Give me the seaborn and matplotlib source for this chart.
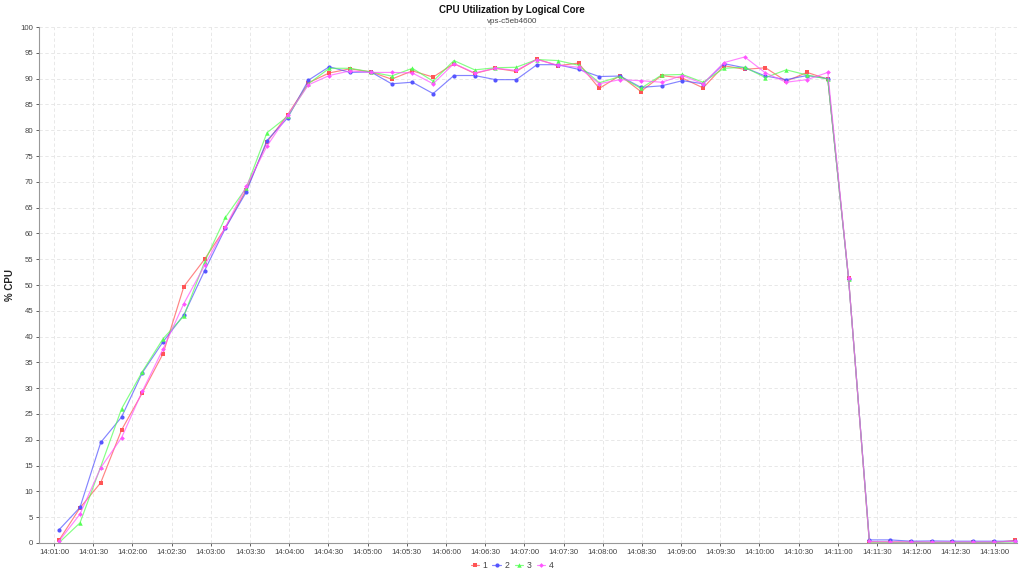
import matplotlib
matplotlib.use("Agg")
import matplotlib.pyplot as plt
import matplotlib.dates as mdates
from matplotlib.lines import Line2D
import seaborn as sns
import pandas as pd
import numpy as np

cores = ["1", "2", "3", "4"]
start_time = "2024-01-01 14:01:04"
n_samples = 47
sample_step = "15900ms"

core1 = [0.6, 6.8, 11.7, 21.9, 29.1, 36.7, 49.7, 55.0, 61.1, 68.4, 77.7, 83.0,
         89.2, 91.1, 91.9, 91.3, 89.9, 91.5, 90.3, 92.9, 91.0, 92.0, 91.4, 93.8,
         92.5, 93.0, 88.1, 90.6, 87.5, 90.6, 90.1, 88.2, 92.5, 91.8, 92.1, 89.5,
         91.2, 89.9, 51.3, 0.2, 0.2, 0.2, 0.1, 0.1, 0.1, 0.1, 0.5]
core2 = [2.6, 6.9, 19.5, 24.4, 33.0, 39.0, 44.2, 52.8, 61.0, 68.0, 78.0, 82.4,
         89.7, 92.3, 91.2, 91.3, 89.0, 89.3, 87.1, 90.6, 90.6, 89.8, 89.8, 92.7,
         92.7, 91.8, 90.4, 90.5, 88.3, 88.6, 89.6, 89.0, 92.9, 92.1, 90.5, 89.8,
         90.6, 90.0, 51.2, 0.6, 0.6, 0.35, 0.4, 0.35, 0.35, 0.35, 0.35]
core3 = [0.1, 3.9, 14.8, 26.0, 33.2, 39.6, 44.0, 54.5, 63.1, 68.8, 79.5, 82.7,
         89.0, 92.0, 92.0, 91.3, 90.5, 92.0, 89.5, 93.5, 91.7, 92.1, 92.2, 93.7,
         93.5, 92.6, 89.2, 90.4, 88.1, 90.7, 90.8, 89.3, 92.0, 92.2, 90.2, 91.7,
         90.7, 89.9, 51.2, 0.2, 0.1, 0.1, 0.1, 0.1, 0.1, 0.1, 0.2]
core4 = [0.4, 5.6, 14.6, 20.4, 29.4, 37.6, 46.4, 53.8, 61.2, 69.1, 76.9, 82.9,
         88.8, 90.6, 91.5, 91.2, 91.2, 91.1, 89.0, 92.9, 91.1, 92.0, 91.6, 93.7,
         92.6, 92.2, 89.0, 89.8, 89.6, 89.3, 90.6, 89.0, 93.1, 94.2, 91.1, 89.3,
         89.8, 91.2, 51.3, 0.3, 0.2, 0.2, 0.2, 0.2, 0.2, 0.2, 0.3]

times = pd.date_range(start=start_time, periods=n_samples, freq=sample_step)
wide = pd.DataFrame({"time": times, "1": core1, "2": core2, "3": core3, "4": core4})
df = wide.melt(id_vars="time", var_name="core", value_name="cpu")

colors = ["#ff5555", "#5555ff", "#55ff55", "#ff55ff"]
markers = ["s", "o", "^", "D"]
msizes = [3.2, 3.0, 3.2, 2.4]

sns.set_theme(style="white")
plt.rcParams["font.family"] = ["Liberation Sans", "DejaVu Sans"]

fig = plt.figure(figsize=(10.24, 5.76), dpi=100)
ax = fig.add_axes([0.0378, 0.0573, 0.9552, 0.8958])

sns.lineplot(data=df, x="time", y="cpu", hue="core", style="core",
             hue_order=cores, style_order=cores, palette=colors,
             markers=markers, dashes=False, ax=ax, legend=False,
             linewidth=0.85, markeredgewidth=0)

for ln, c, ms in zip(ax.lines, colors, msizes):
    rgba = matplotlib.colors.to_rgba(c, 0.72)
    ln.set_color(rgba)
    ln.set_markerfacecolor(c)
    ln.set_markeredgecolor(c)
    ln.set_markersize(ms)

ax.set_ylim(0, 100)
ax.set_yticks(np.arange(0, 101, 5))
ax.set_xlim(pd.Timestamp("2024-01-01 14:00:48.3"), pd.Timestamp("2024-01-01 14:13:17"))
ax.xaxis.set_major_locator(mdates.SecondLocator(bysecond=[0, 30]))
ax.xaxis.set_major_formatter(mdates.DateFormatter("%H:%M:%S"))

ax.grid(True, color="#e4e4e4", linestyle=(0, (4, 3)), linewidth=0.6)
for s in ["top", "right"]:
    ax.spines[s].set_visible(False)
for s in ["left", "bottom"]:
    ax.spines[s].set_color("#999999")
    ax.spines[s].set_linewidth(0.8)
ax.tick_params(axis="both", labelsize=5.6, colors="#444444", length=2, width=0.6,
               direction="out", pad=2, bottom=True, left=True)
for lab in ax.get_xticklabels() + ax.get_yticklabels():
    lab.set_color("#444444")

ax.set_xlabel("")
ax.set_ylabel("% CPU", fontsize=7, fontweight="bold", color="#222222")
ax.yaxis.set_label_coords(-0.024, 0.5)

fig.text(0.5, 0.983, "CPU Utilization by Logical Core", ha="center", va="center",
         fontsize=7, fontweight="bold", color="#111111")
fig.text(0.5, 0.962, "vps-c5eb4600", ha="center", va="center",
         fontsize=5.8, color="#444444")

handles = [Line2D([0], [0], color=matplotlib.colors.to_rgba(c, 0.72), linewidth=0.85,
                  marker=m, markersize=ms, markerfacecolor=c, markeredgecolor=c,
                  markeredgewidth=0)
           for c, m, ms in zip(colors, markers, msizes)]
leg = fig.legend(handles, cores, loc="center", bbox_to_anchor=(0.5, 0.019), ncol=4,
                 frameon=False, fontsize=6.2, handlelength=1.0, handletextpad=0.4,
                 columnspacing=0.6)
for t in leg.get_texts():
    t.set_color("#444444")

fig.savefig("out.png", dpi=100)
